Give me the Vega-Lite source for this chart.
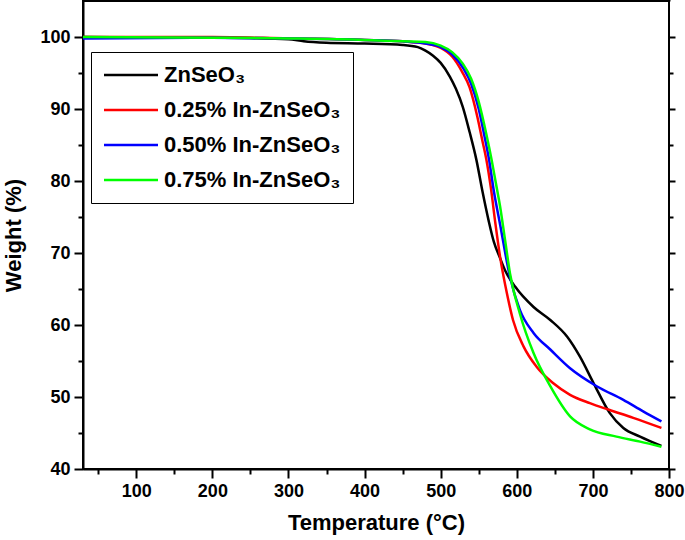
{
  "$schema": "https://vega.github.io/schema/vega-lite/v6.json",
  "width": 586,
  "height": 468,
  "autosize": {"type": "none"},
  "padding": {"left": 83, "top": 1, "right": 16, "bottom": 71},
  "background": "white",
  "config": {
    "view": {"stroke": "black", "strokeWidth": 2},
    "axis": {
      "grid": false,
      "domainColor": "black",
      "domainWidth": 2,
      "tickColor": "black",
      "tickWidth": 2,
      "labelFont": "Liberation Sans",
      "labelFontWeight": "bold",
      "labelFontSize": 18,
      "labelColor": "black",
      "titleFont": "Liberation Sans",
      "titleFontWeight": "bold",
      "titleFontSize": 22,
      "titleColor": "black"
    },
    "legend": {
      "labelFont": "Liberation Sans",
      "labelFontWeight": "bold",
      "labelFontSize": 22,
      "labelColor": "black",
      "labelLimit": 400
    }
  },
  "data": {
    "values": [
      {"s": "ZnSeO₃", "t": 30, "w": 100},
      {"s": "ZnSeO₃", "t": 100, "w": 99.95},
      {"s": "ZnSeO₃", "t": 200, "w": 99.9},
      {"s": "ZnSeO₃", "t": 250, "w": 99.85},
      {"s": "ZnSeO₃", "t": 300, "w": 99.7},
      {"s": "ZnSeO₃", "t": 320, "w": 99.4},
      {"s": "ZnSeO₃", "t": 350, "w": 99.2},
      {"s": "ZnSeO₃", "t": 400, "w": 99.1},
      {"s": "ZnSeO₃", "t": 450, "w": 98.9},
      {"s": "ZnSeO₃", "t": 470, "w": 98.6},
      {"s": "ZnSeO₃", "t": 480, "w": 98.1},
      {"s": "ZnSeO₃", "t": 490, "w": 97.4},
      {"s": "ZnSeO₃", "t": 500, "w": 96.4},
      {"s": "ZnSeO₃", "t": 512, "w": 94.5},
      {"s": "ZnSeO₃", "t": 520, "w": 92.8},
      {"s": "ZnSeO₃", "t": 529, "w": 90.3},
      {"s": "ZnSeO₃", "t": 538, "w": 86.8},
      {"s": "ZnSeO₃", "t": 547, "w": 82.9},
      {"s": "ZnSeO₃", "t": 555, "w": 78.5},
      {"s": "ZnSeO₃", "t": 563, "w": 74.5},
      {"s": "ZnSeO₃", "t": 570, "w": 71.5},
      {"s": "ZnSeO₃", "t": 578, "w": 69.3},
      {"s": "ZnSeO₃", "t": 585, "w": 67.5},
      {"s": "ZnSeO₃", "t": 598, "w": 65.3},
      {"s": "ZnSeO₃", "t": 622, "w": 62.5},
      {"s": "ZnSeO₃", "t": 644, "w": 60.7},
      {"s": "ZnSeO₃", "t": 666, "w": 58.4},
      {"s": "ZnSeO₃", "t": 683, "w": 55.6},
      {"s": "ZnSeO₃", "t": 701, "w": 51.9},
      {"s": "ZnSeO₃", "t": 722, "w": 47.8},
      {"s": "ZnSeO₃", "t": 740, "w": 45.7},
      {"s": "ZnSeO₃", "t": 762, "w": 44.5},
      {"s": "ZnSeO₃", "t": 790, "w": 43.2},

      {"s": "0.25% In-ZnSeO₃", "t": 30, "w": 100},
      {"s": "0.25% In-ZnSeO₃", "t": 200, "w": 100},
      {"s": "0.25% In-ZnSeO₃", "t": 300, "w": 99.8},
      {"s": "0.25% In-ZnSeO₃", "t": 400, "w": 99.6},
      {"s": "0.25% In-ZnSeO₃", "t": 450, "w": 99.4},
      {"s": "0.25% In-ZnSeO₃", "t": 480, "w": 99.1},
      {"s": "0.25% In-ZnSeO₃", "t": 500, "w": 98.5},
      {"s": "0.25% In-ZnSeO₃", "t": 515, "w": 97.3},
      {"s": "0.25% In-ZnSeO₃", "t": 528, "w": 95.2},
      {"s": "0.25% In-ZnSeO₃", "t": 538, "w": 93},
      {"s": "0.25% In-ZnSeO₃", "t": 548, "w": 89},
      {"s": "0.25% In-ZnSeO₃", "t": 555, "w": 85.5},
      {"s": "0.25% In-ZnSeO₃", "t": 560, "w": 83},
      {"s": "0.25% In-ZnSeO₃", "t": 566, "w": 79},
      {"s": "0.25% In-ZnSeO₃", "t": 572, "w": 74},
      {"s": "0.25% In-ZnSeO₃", "t": 578, "w": 69.5},
      {"s": "0.25% In-ZnSeO₃", "t": 587, "w": 64.4},
      {"s": "0.25% In-ZnSeO₃", "t": 595, "w": 60.7},
      {"s": "0.25% In-ZnSeO₃", "t": 609, "w": 57},
      {"s": "0.25% In-ZnSeO₃", "t": 626, "w": 54.2},
      {"s": "0.25% In-ZnSeO₃", "t": 648, "w": 51.9},
      {"s": "0.25% In-ZnSeO₃", "t": 670, "w": 50.3},
      {"s": "0.25% In-ZnSeO₃", "t": 696, "w": 49.15},
      {"s": "0.25% In-ZnSeO₃", "t": 722, "w": 48.2},
      {"s": "0.25% In-ZnSeO₃", "t": 753, "w": 47.1},
      {"s": "0.25% In-ZnSeO₃", "t": 790, "w": 45.7},

      {"s": "0.50% In-ZnSeO₃", "t": 30, "w": 99.8},
      {"s": "0.50% In-ZnSeO₃", "t": 200, "w": 99.9},
      {"s": "0.50% In-ZnSeO₃", "t": 300, "w": 99.8},
      {"s": "0.50% In-ZnSeO₃", "t": 400, "w": 99.6},
      {"s": "0.50% In-ZnSeO₃", "t": 450, "w": 99.4},
      {"s": "0.50% In-ZnSeO₃", "t": 480, "w": 99.1},
      {"s": "0.50% In-ZnSeO₃", "t": 500, "w": 98.6},
      {"s": "0.50% In-ZnSeO₃", "t": 515, "w": 97.6},
      {"s": "0.50% In-ZnSeO₃", "t": 530, "w": 95.6},
      {"s": "0.50% In-ZnSeO₃", "t": 540, "w": 93.5},
      {"s": "0.50% In-ZnSeO₃", "t": 550, "w": 90},
      {"s": "0.50% In-ZnSeO₃", "t": 557, "w": 86.5},
      {"s": "0.50% In-ZnSeO₃", "t": 563.5, "w": 83},
      {"s": "0.50% In-ZnSeO₃", "t": 570, "w": 78.5},
      {"s": "0.50% In-ZnSeO₃", "t": 578, "w": 74},
      {"s": "0.50% In-ZnSeO₃", "t": 591, "w": 66.7},
      {"s": "0.50% In-ZnSeO₃", "t": 604, "w": 62.1},
      {"s": "0.50% In-ZnSeO₃", "t": 622, "w": 58.9},
      {"s": "0.50% In-ZnSeO₃", "t": 644, "w": 56.6},
      {"s": "0.50% In-ZnSeO₃", "t": 670, "w": 54},
      {"s": "0.50% In-ZnSeO₃", "t": 705, "w": 51.5},
      {"s": "0.50% In-ZnSeO₃", "t": 740, "w": 49.6},
      {"s": "0.50% In-ZnSeO₃", "t": 766, "w": 48},
      {"s": "0.50% In-ZnSeO₃", "t": 790, "w": 46.6},

      {"s": "0.75% In-ZnSeO₃", "t": 30, "w": 100},
      {"s": "0.75% In-ZnSeO₃", "t": 200, "w": 99.9},
      {"s": "0.75% In-ZnSeO₃", "t": 300, "w": 99.8},
      {"s": "0.75% In-ZnSeO₃", "t": 400, "w": 99.6},
      {"s": "0.75% In-ZnSeO₃", "t": 450, "w": 99.4},
      {"s": "0.75% In-ZnSeO₃", "t": 480, "w": 99.3},
      {"s": "0.75% In-ZnSeO₃", "t": 500, "w": 98.8},
      {"s": "0.75% In-ZnSeO₃", "t": 515, "w": 97.9},
      {"s": "0.75% In-ZnSeO₃", "t": 529, "w": 96.3},
      {"s": "0.75% In-ZnSeO₃", "t": 540, "w": 94.2},
      {"s": "0.75% In-ZnSeO₃", "t": 550, "w": 91},
      {"s": "0.75% In-ZnSeO₃", "t": 560, "w": 86.5},
      {"s": "0.75% In-ZnSeO₃", "t": 567, "w": 82.9},
      {"s": "0.75% In-ZnSeO₃", "t": 572, "w": 80},
      {"s": "0.75% In-ZnSeO₃", "t": 578, "w": 76.5},
      {"s": "0.75% In-ZnSeO₃", "t": 585, "w": 71.5},
      {"s": "0.75% In-ZnSeO₃", "t": 591, "w": 67.2},
      {"s": "0.75% In-ZnSeO₃", "t": 604, "w": 61.6},
      {"s": "0.75% In-ZnSeO₃", "t": 622, "w": 56.1},
      {"s": "0.75% In-ZnSeO₃", "t": 644, "w": 51.5},
      {"s": "0.75% In-ZnSeO₃", "t": 670, "w": 47.3},
      {"s": "0.75% In-ZnSeO₃", "t": 696, "w": 45.5},
      {"s": "0.75% In-ZnSeO₃", "t": 731, "w": 44.5},
      {"s": "0.75% In-ZnSeO₃", "t": 762, "w": 43.8},
      {"s": "0.75% In-ZnSeO₃", "t": 790, "w": 43.1}
    ]
  },
  "layer": [
    {
      "mark": {"type": "line", "strokeWidth": 2.5, "interpolate": "monotone", "clip": true},
      "encoding": {
        "x": {
          "field": "t", "type": "quantitative",
          "scale": {"domain": [30, 800], "nice": false, "zero": false},
          "axis": {
            "title": "Temperature (°C)",
            "values": [50, 100, 150, 200, 250, 300, 350, 400, 450, 500, 550, 600, 650, 700, 750, 800],
            "labelExpr": "datum.value % 100 === 0 ? datum.label : ''",
            "tickSize": {"condition": {"test": "datum.value % 100 === 0", "value": 9}, "value": 5},
            "labelPadding": 4,
            "labelFlush": false,
            "labelOverlap": false,
            "titlePadding": 12
          }
        },
        "y": {
          "field": "w", "type": "quantitative",
          "scale": {"domain": [40, 105], "nice": false, "zero": false},
          "axis": {
            "title": "Weight (%)",
            "values": [40, 45, 50, 55, 60, 65, 70, 75, 80, 85, 90, 95, 100],
            "labelExpr": "datum.value % 10 === 0 ? datum.label : ''",
            "tickSize": {"condition": {"test": "datum.value % 10 === 0", "value": 9}, "value": 5},
            "labelPadding": 4,
            "labelFlush": false,
            "labelOverlap": false,
            "titlePadding": 14
          }
        },
        "color": {
          "field": "s", "type": "nominal",
          "scale": {
            "domain": ["ZnSeO₃", "0.25% In-ZnSeO₃", "0.50% In-ZnSeO₃", "0.75% In-ZnSeO₃"],
            "range": ["#000000", "#ff0000", "#0000ff", "#00ff00"]
          },
          "legend": {
            "title": null,
            "orient": "none",
            "legendX": 8,
            "legendY": 51,
            "strokeColor": "black",
            "fillColor": "white",
            "padding": 12,
            "symbolType": "M-3,0H3",
            "symbolSize": 324,
            "symbolStrokeWidth": 2.5,
            "symbolOffset": 17,
            "labelOffset": 22,
            "rowPadding": 13
          }
        }
      }
    },
    {
      "mark": {"type": "line", "opacity": 0},
      "encoding": {
        "x": {
          "field": "t", "type": "quantitative",
          "axis": {
            "orient": "top", "title": null, "labels": false, "domain": false,
            "values": [50, 100, 150, 200, 250, 300, 350, 400, 450, 500, 550, 600, 650, 700, 750, 800],
            "tickSize": {"condition": {"test": "datum.value % 100 === 0", "value": 6}, "value": 4}
          }
        },
        "y": {
          "field": "w", "type": "quantitative",
          "axis": {
            "orient": "right", "title": null, "labels": false, "domain": false,
            "values": [40, 45, 50, 55, 60, 65, 70, 75, 80, 85, 90, 95, 100],
            "tickSize": {"condition": {"test": "datum.value % 10 === 0", "value": 6}, "value": 4}
          }
        },
        "detail": {"field": "s", "type": "nominal"}
      }
    }
  ],
  "resolve": {"axis": {"x": "independent", "y": "independent"}}
}
